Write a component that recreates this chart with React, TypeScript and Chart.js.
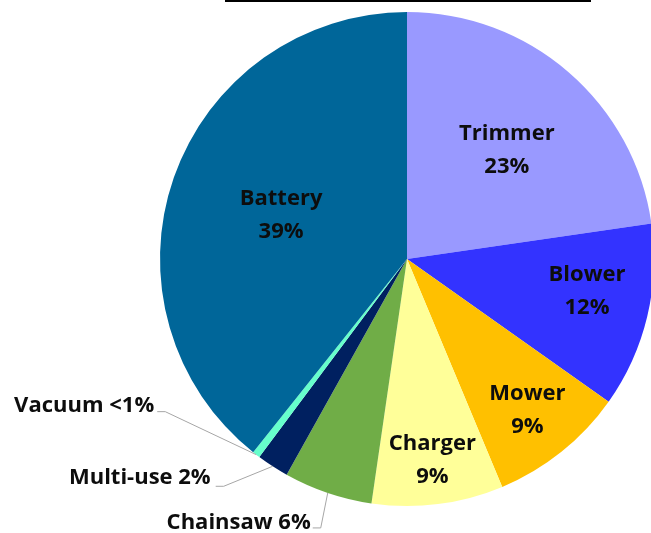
import React, { useEffect, useRef } from "react";
import { Chart, registerables } from "chart.js";

Chart.register(...registerables);

const categories = ["Trimmer", "Blower", "Mower", "Charger", "Chainsaw", "Multi-use", "Vacuum", "Battery"];
const shares = [22.7, 12.1, 8.9, 8.6, 5.8, 2.1, 0.5, 39.3];
const shareLabels = ["23%", "12%", "9%", "9%", "6%", "2%", "<1%", "39%"];
const colors = ["#9999FF", "#3333FF", "#FFC000", "#FFFF99", "#70AD47", "#002060", "#66FFCC", "#006699"];

// label placement: inside (radial fraction, angle tweak in degrees) or outside (elbow offset from edge)
const labelPlacement: any[] = [
  { inside: true, r: 0.6, da: 1.5 },
  { inside: true, r: 0.74, da: -3.5 },
  { inside: true, r: 0.78, da: 0 },
  { inside: true, r: 0.82, da: 0 },
  { inside: false, elbow: [-7, 35], text: [-2, -5] },
  { inside: false, elbow: [-49, 20], text: [-5, -9] },
  { inside: false, elbow: [-91, -43], text: [-3, -6] },
  { inside: true, r: 0.54, da: 0 },
];

const FONT = "bold 22px 'Open Sans', Lato, sans-serif";

const labelPlugin = {
  id: "sliceLabels",
  afterDatasetsDraw(chart: any) {
    const ctx = chart.ctx;
    const meta = chart.getDatasetMeta(0);
    ctx.save();
    // cut-off title underline at top
    ctx.fillStyle = "#000";
    ctx.fillRect(225, 0, 366, 2);
    ctx.font = FONT;
    ctx.fillStyle = "#0D0D0D";
    meta.data.forEach((arc: any, i: number) => {
      const p = arc.getProps(["x", "y", "startAngle", "endAngle", "outerRadius"], true);
      const place = labelPlacement[i];
      const mid = (p.startAngle + p.endAngle) / 2 + ((place.da || 0) * Math.PI) / 180;
      if (place.inside) {
        const rr = p.outerRadius * place.r;
        const cx = p.x + Math.cos(mid) * rr;
        const cy = p.y + Math.sin(mid) * rr;
        ctx.textAlign = "center";
        ctx.textBaseline = "middle";
        ctx.fillText(categories[i], cx, cy - 16);
        ctx.fillText(shareLabels[i], cx, cy + 17);
      } else {
        const ex = p.x + Math.cos(mid) * p.outerRadius;
        const ey = p.y + Math.sin(mid) * p.outerRadius;
        const bx = ex + place.elbow[0];
        const by = ey + place.elbow[1];
        ctx.strokeStyle = "#A6A6A6";
        ctx.lineWidth = 1;
        ctx.beginPath();
        ctx.moveTo(ex, ey);
        ctx.lineTo(bx, by);
        ctx.lineTo(bx - 8, by);
        ctx.stroke();
        ctx.textAlign = "right";
        ctx.textBaseline = "middle";
        ctx.fillText(categories[i] + " " + shareLabels[i], bx - 8 + place.text[0], by + place.text[1]);
      }
    });
    ctx.restore();
  },
};

export default function App() {
  const ref = useRef<HTMLCanvasElement>(null);
  useEffect(() => {
    if (!ref.current) return;
    const chart = new Chart(ref.current, {
      type: "pie",
      data: {
        labels: categories,
        datasets: [
          {
            data: shares,
            backgroundColor: colors,
            borderWidth: 0,
          },
        ],
      },
      options: {
        responsive: false,
        animation: false,
        rotation: 0,
        layout: { padding: { left: 160, right: 6, top: 12, bottom: 27 } },
        plugins: {
          legend: { display: false },
          tooltip: { enabled: false },
          title: { display: false },
        },
      },
      plugins: [labelPlugin],
    });
    return () => chart.destroy();
  }, []);
  return (
    <div style={{ position: "fixed", left: 0, top: 0, width: 651, height: 533, overflow: "hidden", background: "#fff" }}>
      <canvas ref={ref} width={660} height={533} style={{ width: 660, height: 533 }} />
    </div>
  );
}
